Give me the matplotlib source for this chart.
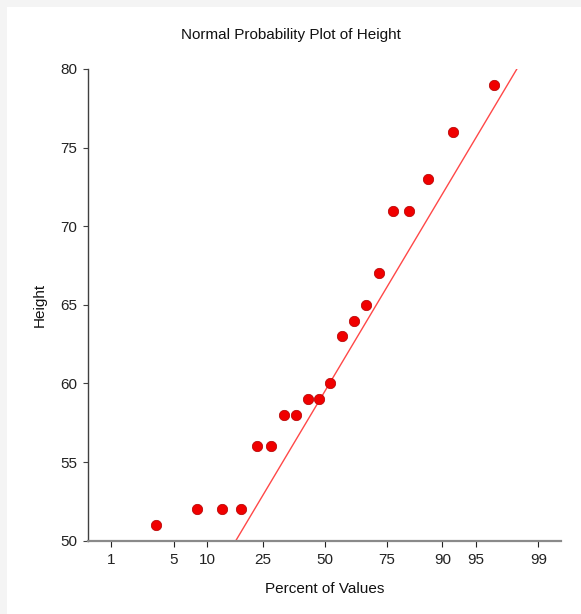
import numpy as np
import matplotlib
matplotlib.use("Agg")
import matplotlib.pyplot as plt
from matplotlib.patches import Rectangle
from statistics import NormalDist

# Data (sorted heights)
heights = [51, 52, 52, 52, 56, 56, 58, 58, 59, 59, 60, 63, 64, 65, 67, 71, 71, 73, 76, 79]
tick_percents = [1, 5, 10, 25, 50, 75, 90, 95, 99]
tick_labels = ["1", "5", "10", "25", "50", "75", "90", "95", "99"]
line_slope = 9.8  # height units per normal score

nd = NormalDist()
n = len(heights)
y = np.sort(np.array(heights, dtype=float))
ranks = np.arange(1, n + 1)
z = np.array([nd.inv_cdf((r - 1/3) / (n + 1/3)) for r in ranks])
center = float(np.median(y))

plt.rcParams['font.family'] = ['Liberation Sans', 'DejaVu Sans']

fig = plt.figure(figsize=(5.81, 6.14), dpi=100)
fig.patch.set_facecolor('#f4f4f4')
fig.patches.append(Rectangle((7/581, 0), 1, 1 - 7/614, transform=fig.transFigure,
                             facecolor='white', edgecolor='none', zorder=-10))

W, H = 581, 614
ax = fig.add_axes([88.3/W, (H-540.7)/H, (561.3-88.3)/W, (540.7-69)/H])
ax.set_facecolor('white')

xlo, xhi = nd.inv_cdf(0.005), nd.inv_cdf(0.995)
xl = np.array([xlo, xhi])
ax.plot(xl, center + line_slope * xl, color='#ff4848', lw=1.0, zorder=2)
ax.scatter(z, y, s=56, color='#f00000', edgecolors='#b00000', linewidths=0.5, zorder=3)

ax.set_xlim(xlo, xhi)
ax.set_ylim(50, 80)
ax.set_xticks([nd.inv_cdf(p/100) for p in tick_percents])
ax.set_xticklabels(tick_labels)
ax.set_yticks([50, 55, 60, 65, 70, 75, 80])

for s in ['top', 'right']:
    ax.spines[s].set_visible(False)
ax.spines['left'].set_color('#404040')
ax.spines['left'].set_linewidth(1.0)
ax.spines['bottom'].set_color('#8a8a8a')
ax.spines['bottom'].set_linewidth(1.6)

ax.tick_params(axis='y', direction='out', length=3.6, width=0.8, color='#404040',
               labelsize=11, labelcolor='#222222', pad=4.2)
ax.tick_params(axis='x', direction='out', length=4.5, width=0.8, color='#222222',
               labelsize=11, labelcolor='#222222', pad=4)

fig.text(0.5, 1 - 35/H, "Normal Probability Plot of Height", fontsize=11,
         color='#111111', ha='center', va='center')
ax.set_xlabel("Percent of Values", fontsize=11, color='#111111', labelpad=11)
ax.set_ylabel("Height", fontsize=11, color='#111111', labelpad=10)

fig.savefig("out.png", dpi=100, facecolor=fig.get_facecolor())
